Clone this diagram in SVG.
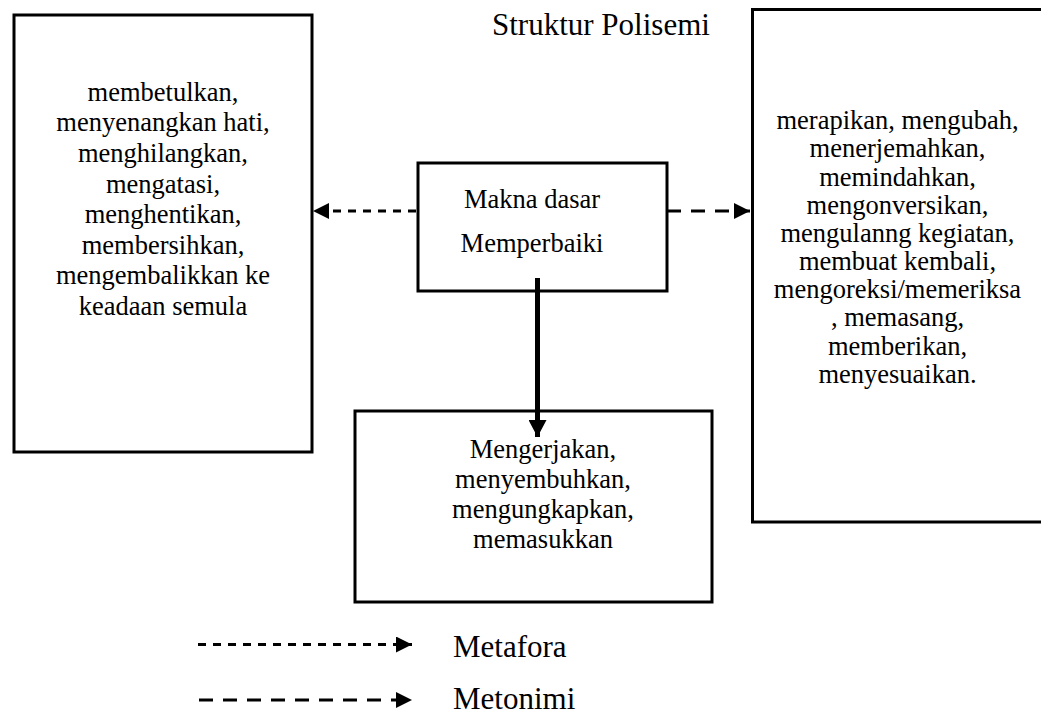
<svg xmlns="http://www.w3.org/2000/svg" width="1041" height="719" viewBox="0 0 1041 719">
<style>
.box{fill:none;stroke:#000;stroke-width:3}
.t{font-family:"Liberation Serif","Times New Roman",serif;font-size:26.5px;fill:#000;text-anchor:middle}
.big{font-family:"Liberation Serif","Times New Roman",serif;font-size:31px;fill:#000}
.meta{stroke:#000;stroke-width:3;fill:none;stroke-dasharray:8 7}
.meto{stroke:#000;stroke-width:3;fill:none;stroke-dasharray:14 10}
</style>
<defs>
<marker id="ah" markerUnits="userSpaceOnUse" markerWidth="16" markerHeight="16" viewBox="0 0 14 14" refX="14" refY="7" orient="auto">
<path d="M0,0 L14,7 L0,14 Z" fill="#000"/>
</marker>
<marker id="ahb" markerUnits="userSpaceOnUse" markerWidth="18" markerHeight="18" viewBox="0 0 18 18" refX="17" refY="9" orient="auto">
<path d="M0,0 L17,9 L0,18 Z" fill="#000"/>
</marker>
</defs>
<rect width="1041" height="719" fill="#fff"/>
<text class="big" x="492" y="35">Struktur Polisemi</text>

<g id="node-left">
<rect class="box" x="14" y="15" width="298" height="437"/>
<text class="t" x="163" y="100.7">membetulkan,</text>
<text class="t" x="163" y="131.3">menyenangkan hati,</text>
<text class="t" x="163" y="161.9">menghilangkan,</text>
<text class="t" x="163" y="192.5">mengatasi,</text>
<text class="t" x="163" y="223.1">menghentikan,</text>
<text class="t" x="163" y="253.7">membersihkan,</text>
<text class="t" x="163" y="284.3">mengembalikkan ke</text>
<text class="t" x="163" y="314.9">keadaan semula</text>
</g>

<g id="node-center">
<rect class="box" x="418" y="163" width="249" height="128"/>
<text class="t" x="532" y="208.3">Makna dasar</text>
<text class="t" x="532" y="251.7">Memperbaiki</text>
</g>

<g id="node-right">
<rect class="box" x="752.5" y="9.5" width="300" height="512.5"/>
<text class="t" x="897.5" y="129.3">merapikan, mengubah,</text>
<text class="t" x="897.5" y="157.4">menerjemahkan,</text>
<text class="t" x="897.5" y="185.6">memindahkan,</text>
<text class="t" x="897.5" y="213.7">mengonversikan,</text>
<text class="t" x="897.5" y="241.9">mengulanng kegiatan,</text>
<text class="t" x="897.5" y="270.0">membuat kembali,</text>
<text class="t" x="897.5" y="298.2">mengoreksi/memeriksa</text>
<text class="t" x="897.5" y="326.3">, memasang,</text>
<text class="t" x="897.5" y="354.5">memberikan,</text>
<text class="t" x="897.5" y="382.6">menyesuaikan.</text>
</g>

<g id="node-bottom">
<rect class="box" x="355" y="411" width="357" height="191"/>
<text class="t" x="543" y="458">Mengerjakan,</text>
<text class="t" x="543" y="488">menyembuhkan,</text>
<text class="t" x="543" y="518">mengungkapkan,</text>
<text class="t" x="543" y="548">memasukkan</text>
</g>

<g id="connectors">
<line class="meta" x1="416" y1="211" x2="313" y2="211" marker-end="url(#ah)"/>
<line class="meto" x1="667" y1="211" x2="750" y2="211" marker-end="url(#ah)"/>
<line x1="537.5" y1="278" x2="537.5" y2="437" stroke="#000" stroke-width="5" marker-end="url(#ahb)"/>
</g>

<g id="legend">
<line class="meta" x1="198" y1="644.5" x2="412" y2="644.5" marker-end="url(#ah)"/>
<text class="big" x="453" y="657">Metafora</text>
<line class="meto" x1="199" y1="700" x2="412" y2="700" marker-end="url(#ah)"/>
<text class="big" x="453" y="709">Metonimi</text>
</g>
</svg>
